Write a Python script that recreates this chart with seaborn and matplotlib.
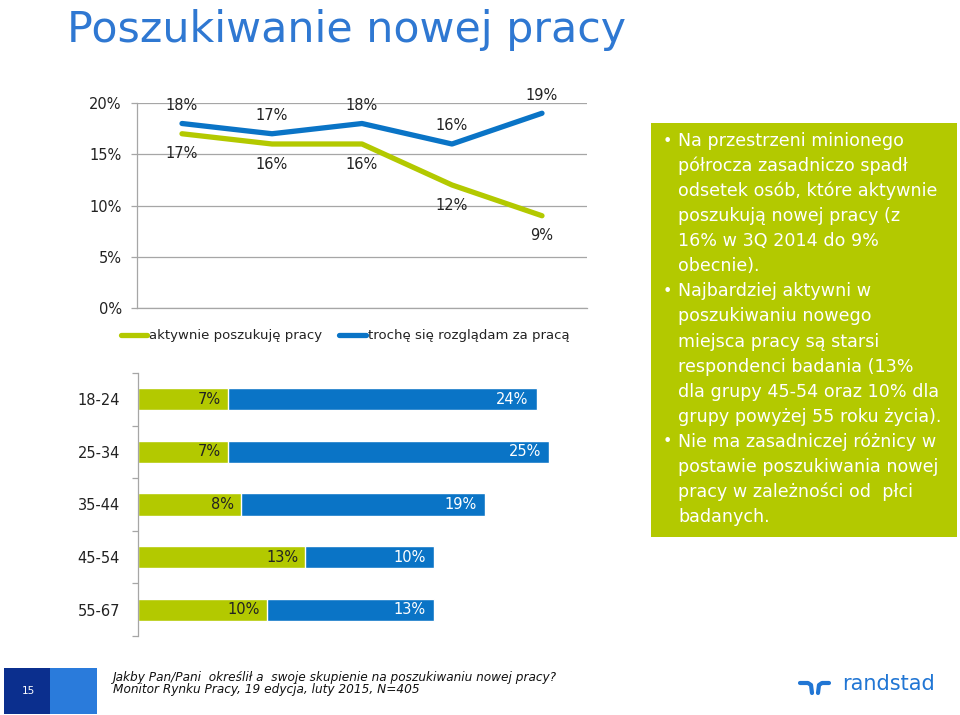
import matplotlib
matplotlib.use("Agg")
import matplotlib.pyplot as plt
import seaborn as sns
import pandas as pd
from matplotlib.patches import Rectangle
from matplotlib.lines import Line2D

# dane - wykres liniowy (kolejne fale badania)
fale = ["1Q 2014", "2Q 2014", "3Q 2014", "4Q 2014", "1Q 2015"]
aktywnie = [17, 16, 16, 12, 9]
rozgladam = [18, 17, 18, 16, 19]
serie = ["aktywnie poszukuję pracy", "trochę się rozglądam za pracą"]

# dane - wykres słupkowy (grupy wieku)
wiek = ["18-24", "25-34", "35-44", "45-54", "55-67"]
wiek_aktywnie = [7, 7, 8, 13, 10]
wiek_rozgladam = [24, 25, 19, 10, 13]

opis = [
    ("•", "Na przestrzeni minionego"),
    ("", "półrocza zasadniczo spadł"),
    ("", "odsetek osób, które aktywnie"),
    ("", "poszukują nowej pracy (z"),
    ("", "16% w 3Q 2014 do 9%"),
    ("", "obecnie)."),
    ("•", "Najbardziej aktywni w"),
    ("", "poszukiwaniu nowego"),
    ("", "miejsca pracy są starsi"),
    ("", "respondenci badania (13%"),
    ("", "dla grupy 45-54 oraz 10% dla"),
    ("", "grupy powyżej 55 roku życia)."),
    ("•", "Nie ma zasadniczej różnicy w"),
    ("", "postawie poszukiwania nowej"),
    ("", "pracy w zależności od  płci"),
    ("", "badanych."),
]

ZIELONY = "#b3c900"
NIEBIESKI = "#0a74c6"
TYTUL = "#2f78d2"
SZARY = "#a6a6a6"

sns.set_theme(style="white")
plt.rcParams["font.family"] = ["DejaVu Sans"]

W, H = 960, 715
fig = plt.figure(figsize=(9.6, 7.15), dpi=100)


def fx(px):
    return px / W


def fy(py):
    return 1 - py / H


def osie(x0, y0, x1, y1):
    return fig.add_axes([fx(x0), fy(y1), (x1 - x0) / W, (y1 - y0) / H])


# tytuł
fig.text(fx(67), fy(30), "Poszukiwanie nowej pracy", color=TYTUL, fontsize=30.8,
         ha="left", va="center")

# --- wykres liniowy ---
ax1 = osie(137, 103, 587, 308)
df = pd.DataFrame({
    "fala": fale * 2,
    "odsetek": aktywnie + rozgladam,
    "seria": [serie[0]] * len(fale) + [serie[1]] * len(fale),
})
sns.lineplot(data=df, x="fala", y="odsetek", hue="seria", sort=False,
             palette=[ZIELONY, NIEBIESKI], linewidth=3.8, ax=ax1, legend=False,
             solid_capstyle="round")
ax1.set_ylim(0, 20)
ax1.set_xlim(-0.5, len(fale) - 0.5)
ax1.set_yticks([0, 5, 10, 15, 20])
ax1.set_yticklabels([f"{v}%" for v in [0, 5, 10, 15, 20]], fontsize=10.5, color="#222222")
ax1.set_xticks([])
ax1.set_xlabel("")
ax1.set_ylabel("")
ax1.grid(axis="y", color=SZARY, linewidth=0.9)
ax1.set_axisbelow(True)
for s in ["top", "right"]:
    ax1.spines[s].set_visible(False)
for s in ["left", "bottom"]:
    ax1.spines[s].set_color(SZARY)
    ax1.spines[s].set_linewidth(0.9)
ax1.tick_params(axis="y", length=4, width=0.9, color=SZARY, pad=7, left=True)
for i, v in enumerate(aktywnie):
    ax1.annotate(f"{v}%", (i, v), xytext=(0, -14.5), textcoords="offset points",
                 ha="center", va="center", fontsize=10.5, color="#222222")
for i, v in enumerate(rozgladam):
    ax1.annotate(f"{v}%", (i, v), xytext=(0, 13), textcoords="offset points",
                 ha="center", va="center", fontsize=10.5, color="#222222")

uchwyty = [Line2D([], [], color=ZIELONY, linewidth=3.8, solid_capstyle="round"),
           Line2D([], [], color=NIEBIESKI, linewidth=3.8, solid_capstyle="round")]
fig.legend(uchwyty, serie, loc="center", bbox_to_anchor=(fx(345), fy(336)), ncol=2,
           frameon=False, fontsize=9.5, handlelength=2.0, handletextpad=0.15,
           columnspacing=1.3, labelcolor="#222222")

# --- wykres słupkowy ---
ax2 = osie(138, 373, 588, 636)
razem = [a + b for a, b in zip(wiek_aktywnie, wiek_rozgladam)]
sns.barplot(x=razem, y=wiek, color=NIEBIESKI, width=0.42, saturation=1, ax=ax2)
sns.barplot(x=wiek_aktywnie, y=wiek, color=ZIELONY, width=0.42, saturation=1, ax=ax2)
ax2.set_xlim(0, 35)
ax2.set_ylim(len(wiek) - 0.5, -0.5)
ax2.set_xticks([])
ax2.tick_params(axis="y", which="major", length=0, pad=13, labelsize=10.5,
                labelcolor="#222222")
ax2.set_yticks([i - 0.5 for i in range(len(wiek) + 1)], minor=True)
ax2.tick_params(axis="y", which="minor", length=4, width=0.9, color=SZARY, left=True)
for s in ["top", "right", "bottom"]:
    ax2.spines[s].set_visible(False)
ax2.spines["left"].set_color(SZARY)
ax2.spines["left"].set_linewidth(0.9)
for i, (a, r) in enumerate(zip(wiek_aktywnie, razem)):
    ax2.annotate(f"{a}%", (a, i), xytext=(-5, 0), textcoords="offset points",
                 ha="right", va="center", fontsize=10.5, color="#222222")
    ax2.annotate(f"{r - a}%", (r, i), xytext=(-6, 0), textcoords="offset points",
                 ha="right", va="center", fontsize=10.5, color="white")

# --- ramka z komentarzem ---
fig.add_artist(Rectangle((fx(651), fy(537)), (957 - 651) / W, (537 - 123) / H,
                         transform=fig.transFigure, facecolor=ZIELONY,
                         edgecolor="none"))
for k, (kropka, linia) in enumerate(opis):
    y = 141 + k * 25.07
    if kropka:
        fig.text(fx(663), fy(y), kropka, color="white", fontsize=11.5, ha="left", va="center")
    fig.text(fx(678), fy(y), linia, color="white", fontsize=12.6, ha="left", va="center")

# --- stopka ---
fig.add_artist(Rectangle((fx(4), fy(714)), 46 / W, 46 / H, transform=fig.transFigure,
                         facecolor="#0b2f8e", edgecolor="none"))
fig.add_artist(Rectangle((fx(50), fy(714)), 47 / W, 46 / H, transform=fig.transFigure,
                         facecolor="#2a7bdb", edgecolor="none"))
fig.text(fx(28), fy(691), "15", color="white", fontsize=7.5, ha="center", va="center")
fig.text(fx(113), fy(678), "Jakby Pan/Pani  określił a  swoje skupienie na poszukiwaniu nowej pracy?",
         fontsize=8.7, style="italic", color="#111111", ha="left", va="center")
fig.text(fx(113), fy(690), "Monitor Rynku Pracy, 19 edycja, luty 2015, N=405",
         fontsize=8.7, style="italic", color="#111111", ha="left", va="center")

# logo randstad
LOGO = "#2176d4"
fig.add_artist(Line2D([fx(800), fx(808), fx(811), fx(812)],
                      [fy(683), fy(683), fy(685), fy(693)],
                      transform=fig.transFigure, color=LOGO, linewidth=3))
fig.add_artist(Line2D([fx(818), fx(819), fx(822), fx(829)],
                      [fy(693), fy(685), fy(683), fy(683)],
                      transform=fig.transFigure, color=LOGO, linewidth=3))
fig.text(fx(842), fy(684), "randstad", color=LOGO, fontsize=15, ha="left", va="center")

fig.savefig("out.png", dpi=100, facecolor="white")
